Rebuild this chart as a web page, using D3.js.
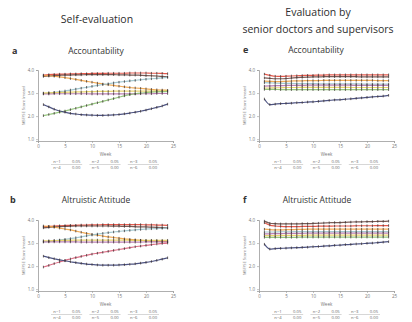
<!DOCTYPE html>
<html>
<head>
<meta charset="utf-8">
<script src="https://cdn.jsdelivr.net/npm/d3@7"></script>
<style>
  html, body { margin: 0; padding: 0; background: #fff; }
  svg { display: block; font-family: "Open Sans", "Liberation Sans", sans-serif; }
</style>
</head>
<body>
<div id="chart"></div>
<script>
// weeks on the x axis
const weeks = [1,2,3,4,5,6,7,8,9,10,11,12,13,14,15,16,17,18,19,20,21,22,23,24];
const xTicks = [0, 5, 10, 15, 20, 25];
const yTicks = [1, 2, 3, 4];
const seriesColors = ['#e2483a', '#6b4a44', '#f0a346', '#9cc3cc', '#b574ac', '#e6cf62', '#8cc072', '#3b4174'];
const colorsB = ['#e2483a', '#6b4a44', '#f0a346', '#9cc3cc', '#b574ac', '#e6cf62', '#d8607a', '#3b4174'];

// a: self-evaluation, accountability
const aRed    = [3.78,3.80,3.81,3.82,3.82,3.83,3.83,3.84,3.84,3.85,3.85,3.85,3.86,3.86,3.86,3.86,3.87,3.87,3.87,3.87,3.86,3.86,3.85,3.84];
const aDark   = [3.72,3.74,3.76,3.77,3.78,3.78,3.79,3.79,3.80,3.80,3.80,3.80,3.80,3.80,3.79,3.79,3.78,3.78,3.77,3.76,3.75,3.74,3.72,3.70];
const aOrange = [3.76,3.75,3.73,3.70,3.67,3.63,3.59,3.55,3.51,3.47,3.43,3.39,3.36,3.33,3.30,3.27,3.24,3.22,3.20,3.18,3.16,3.14,3.13,3.12];
const aTeal   = [2.98,3.00,3.03,3.06,3.09,3.13,3.17,3.21,3.25,3.29,3.33,3.37,3.40,3.44,3.47,3.50,3.53,3.55,3.58,3.60,3.62,3.64,3.66,3.68];
const aPurple = [2.96,2.96,2.97,2.97,2.97,2.97,2.97,2.97,2.97,2.96,2.96,2.96,2.96,2.96,2.96,2.96,2.96,2.96,2.97,2.97,2.97,2.98,2.98,2.98];
const aYellow = [3.00,3.01,3.02,3.03,3.03,3.04,3.05,3.05,3.06,3.06,3.07,3.07,3.07,3.08,3.08,3.08,3.08,3.08,3.08,3.08,3.08,3.08,3.09,3.09];
const aGreen  = [2.02,2.07,2.12,2.17,2.22,2.28,2.34,2.40,2.46,2.52,2.58,2.64,2.70,2.76,2.82,2.88,2.93,2.97,3.00,3.02,3.04,3.05,3.06,3.07];
const aNavy   = [2.50,2.40,2.30,2.22,2.17,2.12,2.09,2.06,2.05,2.04,2.03,2.03,2.04,2.05,2.07,2.10,2.13,2.17,2.21,2.26,2.32,2.38,2.44,2.52];

// b: self-evaluation, altruistic attitude
const bRed    = [3.70,3.72,3.74,3.75,3.76,3.77,3.77,3.78,3.78,3.79,3.79,3.80,3.80,3.80,3.80,3.80,3.80,3.80,3.80,3.79,3.79,3.78,3.78,3.77];
const bDark   = [3.66,3.68,3.70,3.71,3.72,3.73,3.74,3.74,3.74,3.74,3.74,3.74,3.74,3.73,3.73,3.72,3.72,3.71,3.70,3.70,3.69,3.68,3.67,3.66];
const bOrange = [3.74,3.72,3.69,3.65,3.61,3.57,3.52,3.47,3.42,3.38,3.34,3.30,3.27,3.24,3.21,3.18,3.16,3.14,3.12,3.10,3.09,3.08,3.07,3.06];
const bTeal   = [3.05,3.07,3.10,3.13,3.16,3.19,3.23,3.27,3.31,3.35,3.39,3.42,3.45,3.48,3.51,3.53,3.55,3.57,3.59,3.61,3.62,3.63,3.64,3.65];
const bPurple = [3.05,3.05,3.05,3.05,3.05,3.05,3.05,3.04,3.04,3.04,3.04,3.04,3.04,3.04,3.04,3.04,3.04,3.04,3.04,3.05,3.05,3.05,3.05,3.05];
const bYellow = [3.10,3.10,3.11,3.11,3.12,3.12,3.13,3.13,3.13,3.13,3.13,3.13,3.13,3.13,3.13,3.13,3.12,3.12,3.12,3.12,3.12,3.12,3.12,3.12];
const bPink   = [1.96,2.03,2.11,2.18,2.25,2.31,2.37,2.42,2.47,2.52,2.56,2.60,2.64,2.68,2.72,2.76,2.80,2.84,2.87,2.90,2.93,2.96,2.98,3.00];
const bNavy   = [2.43,2.37,2.32,2.27,2.23,2.19,2.15,2.12,2.09,2.07,2.05,2.04,2.04,2.04,2.05,2.06,2.08,2.10,2.13,2.16,2.20,2.25,2.30,2.36];

// e: supervisors, accountability
const eRed    = [3.82,3.77,3.73,3.72,3.73,3.74,3.75,3.76,3.77,3.77,3.78,3.78,3.79,3.79,3.79,3.79,3.79,3.79,3.79,3.79,3.79,3.79,3.79,3.79];
const eDark   = [3.66,3.64,3.62,3.62,3.63,3.65,3.67,3.68,3.69,3.70,3.70,3.71,3.71,3.71,3.71,3.71,3.71,3.71,3.70,3.70,3.70,3.70,3.70,3.70];
const eOrange = [3.52,3.51,3.50,3.50,3.51,3.52,3.53,3.53,3.54,3.54,3.54,3.55,3.55,3.55,3.55,3.55,3.55,3.55,3.55,3.55,3.55,3.54,3.54,3.54];
const eTeal   = [3.45,3.44,3.43,3.42,3.42,3.42,3.41,3.41,3.41,3.41,3.40,3.40,3.40,3.40,3.40,3.40,3.40,3.40,3.39,3.39,3.39,3.39,3.39,3.39];
const ePurple = [3.30,3.31,3.32,3.32,3.33,3.33,3.33,3.33,3.34,3.34,3.34,3.34,3.34,3.34,3.34,3.34,3.34,3.33,3.33,3.33,3.33,3.33,3.33,3.33];
const eYellow = [3.22,3.22,3.23,3.23,3.24,3.24,3.24,3.25,3.25,3.25,3.25,3.25,3.25,3.25,3.25,3.25,3.24,3.24,3.24,3.24,3.24,3.24,3.24,3.24];
const eGreen  = [3.16,3.16,3.16,3.15,3.15,3.15,3.15,3.15,3.15,3.15,3.15,3.15,3.15,3.15,3.15,3.15,3.15,3.15,3.15,3.15,3.15,3.15,3.15,3.15];
const eNavy   = [2.74,2.50,2.52,2.54,2.55,2.56,2.58,2.59,2.61,2.62,2.64,2.66,2.68,2.70,2.71,2.73,2.75,2.77,2.79,2.81,2.83,2.85,2.87,2.90];

// f: supervisors, altruistic attitude
const fRed    = [3.88,3.78,3.74,3.72,3.71,3.71,3.71,3.72,3.72,3.72,3.73,3.73,3.73,3.74,3.74,3.74,3.74,3.75,3.75,3.75,3.75,3.76,3.76,3.76];
const fDark   = [3.95,3.86,3.84,3.83,3.83,3.83,3.83,3.84,3.84,3.85,3.86,3.87,3.88,3.89,3.89,3.90,3.91,3.92,3.92,3.93,3.93,3.94,3.94,3.95];
const fOrange = [3.60,3.58,3.57,3.57,3.58,3.58,3.59,3.59,3.60,3.60,3.60,3.60,3.60,3.60,3.60,3.60,3.60,3.60,3.60,3.60,3.60,3.60,3.60,3.60];
const fTeal   = [3.48,3.48,3.48,3.49,3.49,3.49,3.50,3.50,3.50,3.50,3.50,3.50,3.50,3.50,3.50,3.50,3.50,3.50,3.50,3.50,3.50,3.50,3.50,3.50];
const fPurple = [3.40,3.40,3.41,3.41,3.42,3.42,3.42,3.42,3.43,3.43,3.43,3.43,3.43,3.43,3.43,3.43,3.43,3.43,3.43,3.43,3.43,3.43,3.43,3.43];
const fYellow = [3.32,3.32,3.32,3.33,3.33,3.33,3.33,3.33,3.34,3.34,3.34,3.34,3.34,3.34,3.34,3.34,3.34,3.34,3.34,3.34,3.34,3.34,3.34,3.34];
const fGreen  = [3.25,3.25,3.25,3.25,3.25,3.25,3.25,3.26,3.26,3.26,3.26,3.26,3.26,3.26,3.26,3.26,3.26,3.26,3.26,3.26,3.26,3.26,3.26,3.26];
const fNavy   = [2.95,2.74,2.76,2.77,2.78,2.79,2.80,2.81,2.82,2.84,2.85,2.87,2.88,2.90,2.91,2.93,2.94,2.96,2.97,2.99,3.00,3.02,3.04,3.06];

// legend cells under each panel (two rows)
const legendRow1 = ['n=1', '0.05', 'n=2', '0.05', 'n=3', '0.05'];
const legendRow2 = ['n=4', '0.00', 'n=5', '0.00', 'n=6', '0.00'];

const W = 412, H = 322;
const svg = d3.select('#chart').append('svg').attr('width', W).attr('height', H);

// column headers
svg.append('text').attr('x', 97).attr('y', 23).attr('text-anchor', 'middle')
  .attr('font-size', 10.5).attr('fill', '#2e2e2e').text('Self-evaluation');
svg.append('text').attr('x', 318).attr('y', 16).attr('text-anchor', 'middle')
  .attr('font-size', 10.5).attr('fill', '#2e2e2e').text('Evaluation by');
svg.append('text').attr('x', 318).attr('y', 33).attr('text-anchor', 'middle')
  .attr('font-size', 10.5).attr('fill', '#2e2e2e').text('senior doctors and supervisors');

const panels = [
  { letter: 'a', title: 'Accountability', left: 38, top: 70, lx: 12, tx: 96, ty: 54,
    colors: seriesColors, series: [aRed, aDark, aOrange, aTeal, aPurple, aYellow, aGreen, aNavy] },
  { letter: 'b', title: 'Altruistic Attitude', left: 38, top: 220, lx: 10, tx: 96, ty: 203,
    colors: colorsB, series: [bRed, bDark, bOrange, bTeal, bPurple, bYellow, bPink, bNavy] },
  { letter: 'e', title: 'Accountability', left: 259, top: 70, lx: 243, tx: 316, ty: 53,
    colors: seriesColors, series: [eRed, eDark, eOrange, eTeal, ePurple, eYellow, eGreen, eNavy] },
  { letter: 'f', title: 'Altruistic Attitude', left: 259, top: 220, lx: 243, tx: 317, ty: 203,
    colors: seriesColors, series: [fRed, fDark, fOrange, fTeal, fPurple, fYellow, fGreen, fNavy] },
];

panels.forEach(p => {
  let w = 135;
  let bottom = p.top + 71;

  let x = d3.scaleLinear().domain([0, 25]).range([p.left, p.left + w]);
  let y = d3.scaleLinear().domain([0.92, 4]).range([bottom, p.top]);

  // letter + panel title
  svg.append('text').attr('x', p.lx).attr('y', p.ty).attr('font-size', 9)
    .attr('font-weight', 'bold').attr('fill', '#333').text(p.letter);
  svg.append('text').attr('x', p.tx).attr('y', p.ty).attr('text-anchor', 'middle')
    .attr('font-size', 8.5).attr('fill', '#333').text(p.title);

  // axes
  let gx = svg.append('g').attr('transform', `translate(0, ${bottom})`)
    .call(d3.axisBottom(x).tickValues(xTicks).tickSize(2).tickPadding(2));
  let gy = svg.append('g').attr('transform', `translate(${p.left}, 0)`)
    .call(d3.axisLeft(y).tickValues(yTicks).tickSize(2).tickPadding(2));
  [gx, gy].forEach(g => {
    g.select('.domain').attr('stroke', '#9a9a9a').attr('stroke-width', 0.8);
    g.selectAll('.tick line').attr('stroke', '#9a9a9a').attr('stroke-width', 0.6);
    g.selectAll('.tick text').attr('font-size', 4.5).attr('fill', '#777')
      .attr('font-family', '"Open Sans", sans-serif');
  });

  svg.append('text').attr('x', p.left + w / 2).attr('y', bottom + 15).attr('text-anchor', 'middle')
    .attr('font-size', 4.5).attr('fill', '#777').text('Week');
  svg.append('text')
    .attr('transform', `translate(${p.left - 13}, ${(p.top + bottom) / 2}) rotate(-90)`)
    .attr('text-anchor', 'middle').attr('font-size', 4).attr('fill', '#777')
    .text('MSF/SE Score (mean)');

  // trajectory lines
  let line = d3.line().x((d, i) => x(weeks[i])).y(d => y(d)).curve(d3.curveMonotoneX);
  p.series.forEach((vals, si) => {
    svg.append('path').datum(vals).attr('d', line).attr('fill', 'none')
      .attr('stroke', p.colors[si]).attr('stroke-width', 1.2).attr('opacity', 0.9);
  });
  // markers
  p.series.forEach((vals, si) => {
    svg.append('g').selectAll('rect').data(vals).enter().append('rect')
      .attr('x', (d, i) => x(weeks[i]) - 0.5)
      .attr('y', d => y(d) - 1.3)
      .attr('width', 1).attr('height', 2.6)
      .attr('fill', '#3a3030').attr('opacity', 0.75);
  });

  // legend table
  let cellX = d3.scalePoint().domain(d3.range(legendRow1.length))
    .range([p.left + 19, p.left + w - 20]);
  let ly = bottom + 22;
  [legendRow1, legendRow2].forEach((row, ri) => {
    svg.append('g').selectAll('text').data(row).enter().append('text')
      .attr('x', (d, i) => cellX(i)).attr('y', ly + ri * 6)
      .attr('text-anchor', 'middle').attr('font-size', 4.2).attr('fill', '#666')
      .text(d => d);
  });
  svg.append('g').selectAll('line').data(d3.range(3)).enter().append('line')
    .attr('x1', d => cellX(d * 2) - 6).attr('x2', d => cellX(d * 2 + 1) + 6)
    .attr('y1', ly + 1.5).attr('y2', ly + 1.5)
    .attr('stroke', '#999').attr('stroke-width', 0.4);
});
</script>
</body>
</html>
